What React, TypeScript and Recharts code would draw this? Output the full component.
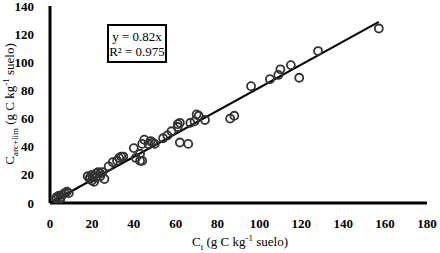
import React from 'react';
import { ScatterChart, Scatter, XAxis, YAxis, ReferenceLine } from 'recharts';

// C total (x) vs C arcilla+limo (y), g C / kg suelo
const ctValues = [
  3, 4, 5, 6, 7, 8, 9, 5, 3,
  18, 19, 20, 21, 22, 20, 21, 23, 24, 19, 22, 25, 26, 24,
  28, 30, 32, 33, 34, 35,
  40, 41, 43, 43, 44, 45, 44, 47, 48, 49, 50,
  54, 56, 58, 61, 62, 61, 62, 66, 67, 69, 70, 71, 74,
  86, 88, 96, 105, 109, 110, 115, 119, 128, 157,
];
const carcValues = [
  3, 5, 4, 6, 7, 8, 7, 3, 4,
  19, 18, 20, 19, 21, 16, 15, 22, 21, 17, 18, 22, 17, 19,
  26, 29, 30, 32, 33, 33,
  39, 32, 30, 35, 30, 45, 42, 42, 44, 43, 42,
  46, 48, 51, 54, 57, 56, 43, 42, 57, 58, 63, 62, 59,
  60, 62, 83, 88, 91, 95, 98, 89, 108, 124,
];
const xTicks = [0, 20, 40, 60, 80, 100, 120, 140, 160, 180];
const yTicks = [0, 20, 40, 60, 80, 100, 120, 140];
const slope = 0.82;
const fitEnd = 157;

const points = ctValues.map((x, i) => ({ x, y: carcValues[i] }));

const font = '"Liberation Serif", "DejaVu Serif", serif';

const YLabel = () => (
  <text transform="translate(14,104) rotate(-90)" textAnchor="middle" fontFamily={font} fontSize={13} fill="#000">
    <tspan>C</tspan>
    <tspan fontSize={9} dy={4}>arc+lim</tspan>
    <tspan dy={-4}> (g C kg</tspan>
    <tspan fontSize={9} dy={-5}>-1</tspan>
    <tspan dy={5}> suelo)</tspan>
  </text>
);

const XLabel = () => (
  <text x={240} y={246} textAnchor="middle" fontFamily={font} fontSize={13} fill="#000">
    <tspan>C</tspan>
    <tspan fontSize={9} dy={4}>t</tspan>
    <tspan dy={-4}> (g C kg</tspan>
    <tspan fontSize={9} dy={-5}>-1</tspan>
    <tspan dy={5}> suelo)</tspan>
  </text>
);

const Ring = (props: any) => (
  <circle cx={props.cx} cy={props.cy} r={4} fill="none" stroke="#333" strokeWidth={1.8} />
);

export default function App() {
  const tick = { fontFamily: font, fontSize: 13, fill: '#000', fontWeight: 'bold' as const };
  return (
    <div style={{ position: 'absolute', left: 0, top: 0, width: 440, height: 253, background: '#fff' }}>
      <ScatterChart width={440} height={253} margin={{ top: 6, right: 13, bottom: 0, left: 0 }}>
        <XAxis
          type="number"
          dataKey="x"
          domain={[0, 180]}
          ticks={xTicks}
          interval={0}
          tickLine={false}
          axisLine={{ stroke: '#000', strokeWidth: 3 }}
          tick={tick}
          tickMargin={10}
          height={50}
        />
        <YAxis
          type="number"
          dataKey="y"
          domain={[0, 140]}
          ticks={yTicks}
          interval={0}
          tickLine={false}
          axisLine={{ stroke: '#000', strokeWidth: 3 }}
          tick={tick}
          tickMargin={10}
          width={50}
        />
        <ReferenceLine
          segment={[{ x: 0, y: 0 }, { x: fitEnd, y: slope * fitEnd }]}
          stroke="#000"
          strokeWidth={2}
        />
        <Scatter data={points} shape={<Ring />} isAnimationActive={false} />
        <YLabel />
        <XLabel />
      </ScatterChart>
      <div
        style={{
          position: 'absolute',
          left: 107,
          top: 24,
          width: 60,
          height: 39,
          boxSizing: 'border-box',
          border: '2px solid #000',
          fontFamily: font,
          fontSize: 13,
          lineHeight: '15px',
          textAlign: 'center',
          whiteSpace: 'nowrap',
          display: 'flex',
          flexDirection: 'column',
          justifyContent: 'center',
          background: '#fff',
        }}
      >
        <div>y = 0.82x</div>
        <div>R² = 0.975</div>
      </div>
    </div>
  );
}
